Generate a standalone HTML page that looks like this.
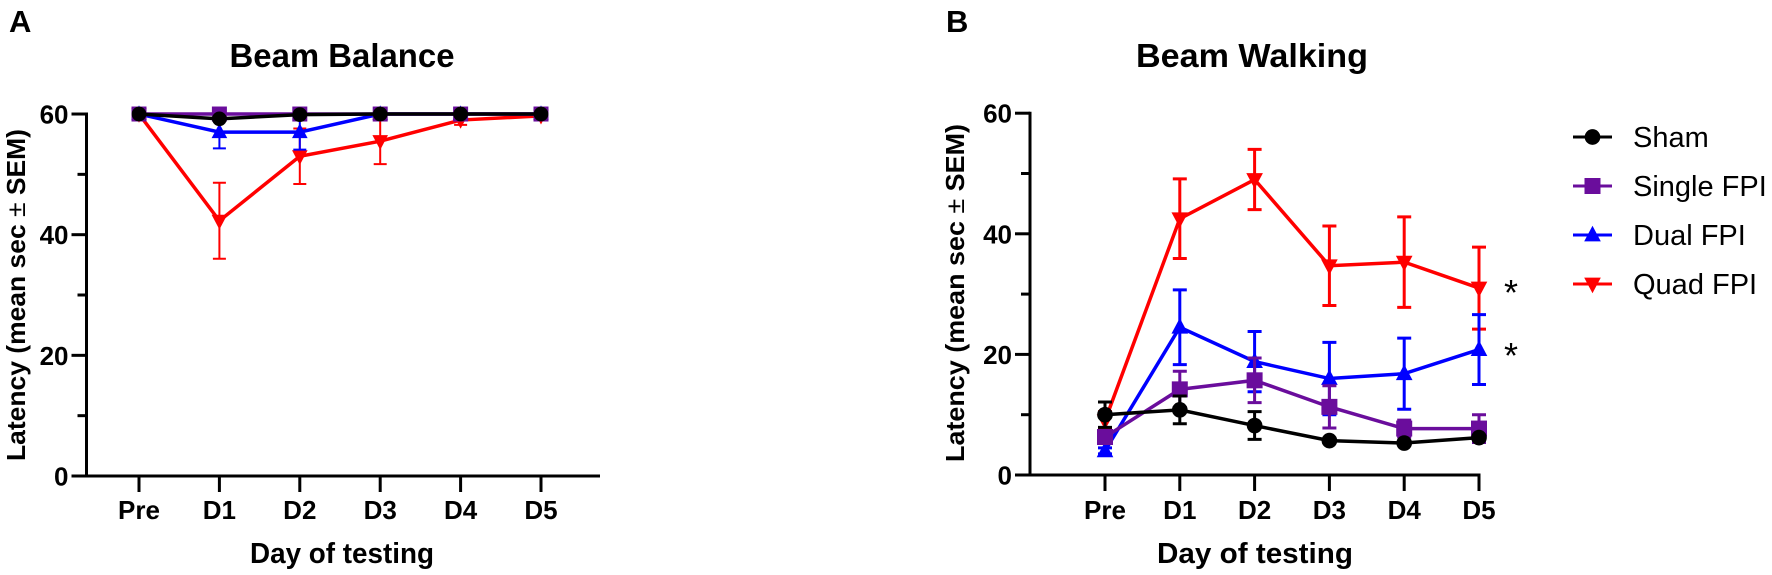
<!DOCTYPE html>
<html lang="en">
<head>
<meta charset="utf-8">
<title>Beam Balance and Beam Walking</title>
<style>
html,body{margin:0;padding:0;background:#fff;width:1772px;height:575px;overflow:hidden}
svg{display:block}
text{font-family:"Liberation Sans",sans-serif;fill:#000}
.b{font-weight:bold}
</style>
</head>
<body>
<svg id="figure" width="1772" height="575" viewBox="0 0 1772 575" xmlns="http://www.w3.org/2000/svg"></svg>
<script>
const days = ['Pre', 'D1', 'D2', 'D3', 'D4', 'D5'];
const yTickLabels = [0, 20, 40, 60];
const yMinorTicks = [10, 30, 50];
const seriesNames = ['Quad FPI', 'Dual FPI', 'Single FPI', 'Sham'];
const legendOrder = ['Sham', 'Single FPI', 'Dual FPI', 'Quad FPI'];

const balanceSham = [60, 59.2, 59.9, 60, 60, 60];
const balanceShamErr = [0, 0.3, 0.1, 0, 0, 0];
const balanceSingle = [60, 60, 60, 60, 60, 60];
const balanceSingleErr = [0, 0, 0, 0, 0, 0];
const balanceDual = [60, 57, 57, 60, 60, 60];
const balanceDualErr = [0, 2.7, 2.9, 0, 0, 0];
const balanceQuad = [60, 42.3, 53, 55.5, 59, 59.7];
const balanceQuadErr = [0, 6.3, 4.6, 3.8, 0.8, 0.5];

const walkingSham = [10, 10.8, 8.2, 5.7, 5.3, 6.2];
const walkingShamErr = [2.1, 2.3, 2.3, 0.3, 0.3, 0.3];
const walkingSingle = [6.3, 14.2, 15.7, 11.3, 7.7, 7.7];
const walkingSingleErr = [0.6, 3, 3.7, 3.5, 1.4, 2.3];
const walkingDual = [4, 24.5, 18.8, 16, 16.8, 20.8];
const walkingDualErr = [0.5, 6.2, 5, 6, 5.9, 5.8];
const walkingQuad = [9, 42.5, 49, 34.7, 35.3, 31];
const walkingQuadErr = [1.5, 6.6, 5, 6.6, 7.5, 6.8];

const NS = 'http://www.w3.org/2000/svg';
const root = document.getElementById('figure');
const COLORS = {'Sham':'#000000','Single FPI':'#6a0d9c','Dual FPI':'#0000ff','Quad FPI':'#ff0000'};
const MARKERS = {'Sham':'circle','Single FPI':'square','Dual FPI':'up','Quad FPI':'down'};

function make(tag, attrs, parent){
  const el = document.createElementNS(NS, tag);
  for (const k in attrs) el.setAttribute(k, attrs[k]);
  (parent || root).appendChild(el);
  return el;
}
function slug(s){ return s.toLowerCase().replace(/[^a-z0-9]+/g,'-'); }

function drawMarker(parent, kind, x, y, color, size){
  const s = size;
  let el;
  if (kind === 'circle') {
    el = make('circle', {cx:x, cy:y, r:s*0.49, fill:color}, parent);
  } else if (kind === 'square') {
    el = make('rect', {x:x-s/2, y:y-s/2, width:s, height:s, fill:color}, parent);
  } else if (kind === 'up') {
    el = make('polygon', {points:`${x},${y-s*0.58} ${x+s*0.52},${y+s*0.4} ${x-s*0.52},${y+s*0.4}`, fill:color}, parent);
  } else {
    el = make('polygon', {points:`${x},${y+s*0.58} ${x+s*0.52},${y-s*0.4} ${x-s*0.52},${y-s*0.4}`, fill:color}, parent);
  }
  
  
  return el;
}

function drawPanel(p){
  const g = make('g', {});
  
  
  const xPos = i => p.xFirst + i * p.xStep;
  const yPos = v => p.y0 - v * p.yUnit;
  const tickLabelSize = 26;

  const letter = make('text', {x:p.letterX, y:32, 'font-size':31, class:'b'}, g);
  letter.textContent = p.letter;
  
  

  const title = make('text', {x:p.titleX, y:67, 'font-size':33, class:'b', 'text-anchor':'middle', textLength:p.titleW, lengthAdjust:'spacingAndGlyphs'}, g);
  title.textContent = p.title;
  
  

  // axes
  const yAxis = make('line', {x1:p.axisX, x2:p.axisX, y1:yPos(60)-1.5, y2:p.y0+1.5, stroke:'#000', 'stroke-width':3}, g);
  
  
  const xAxis = make('line', {x1:p.axisX-15, x2:p.xEnd, y1:p.y0, y2:p.y0, stroke:'#000', 'stroke-width':3}, g);
  
  

  yTickLabels.forEach(v => {
    const t = make('line', {x1:p.axisX-15, x2:p.axisX, y1:yPos(v), y2:yPos(v), stroke:'#000', 'stroke-width':3}, g);
    
    
    const l = make('text', {x:p.axisX-18, y:yPos(v)+9.5, 'font-size':tickLabelSize, class:'b', 'text-anchor':'end'}, g);
    l.textContent = v;
    
    
  });
  yMinorTicks.forEach(v => {
    const t = make('line', {x1:p.axisX-9, x2:p.axisX, y1:yPos(v), y2:yPos(v), stroke:'#000', 'stroke-width':3}, g);
    
    
  });
  days.forEach((d, i) => {
    const x = xPos(i);
    const t = make('line', {x1:x, x2:x, y1:p.y0, y2:p.y0+16, stroke:'#000', 'stroke-width':3}, g);
    
    
    const l = make('text', {x:x, y:519, 'font-size':tickLabelSize, class:'b', 'text-anchor':'middle'}, g);
    l.textContent = d;
    
    
  });

  const xt = make('text', {x:p.xTitleX, y:563, 'font-size':29, class:'b', 'text-anchor':'middle', textLength:p.xTitleW, lengthAdjust:'spacingAndGlyphs'}, g);
  xt.textContent = 'Day of testing';
  
  

  const yt = make('text', {transform:`translate(${p.yTitleX},${p.yTitleY}) rotate(-90)`, 'font-size':26, class:'b', 'text-anchor':'middle', textLength:p.yTitleW, lengthAdjust:'spacingAndGlyphs'}, g);
  yt.textContent = 'Latency (mean sec ';
  const pm = make('tspan', {'font-weight':'normal'}, yt);
  pm.textContent = '±';
  const rest = make('tspan', {}, yt);
  rest.textContent = ' SEM)';
  
  

  // series: error bars then line then markers, drawn back to front
  seriesNames.forEach(name => {
    const vals = p.values[name], errs = p.errors[name], col = COLORS[name];
    const sg = make('g', {}, g);
    
    
    vals.forEach((v, i) => {
      if (errs[i] <= 0) return;
      const x = xPos(i), hi = yPos(v + errs[i]), lo = yPos(v - errs[i]);
      const e = make('path', {d:`M${x} ${hi}V${lo}M${x-p.cap} ${hi}H${x+p.cap}M${x-p.cap} ${lo}H${x+p.cap}`, fill:'none', stroke:col, 'stroke-width':p.errW}, sg);
      
      
    });
    const pts = vals.map((v, i) => xPos(i) + ',' + yPos(v)).join(' ');
    const line = make('polyline', {points:pts, fill:'none', stroke:col, 'stroke-width':p.lineW, 'stroke-linejoin':'miter'}, sg);
    
    
    vals.forEach((v, i) => drawMarker(sg, MARKERS[name], xPos(i), yPos(v), col, p.markerSize));
  });
}

drawPanel({
  id:'beam-balance', letter:'A', title:'Beam Balance', letterX:9, titleX:342, titleW:225,
  axisX:86.5, xEnd:600, xFirst:139, xStep:80.4, y0:476, yUnit:6.033,
  xTitleX:342, xTitleW:184, yTitleX:25, yTitleY:295, yTitleW:332,
  cap:6.5, errW:2, lineW:3.5, markerSize:15,
  values:{'Sham':balanceSham,'Single FPI':balanceSingle,'Dual FPI':balanceDual,'Quad FPI':balanceQuad},
  errors:{'Sham':balanceShamErr,'Single FPI':balanceSingleErr,'Dual FPI':balanceDualErr,'Quad FPI':balanceQuadErr}
});
drawPanel({
  id:'beam-walking', letter:'B', title:'Beam Walking', letterX:946, titleX:1252, titleW:232,
  axisX:1030, xEnd:1480.5, xFirst:1105, xStep:74.8, y0:475, yUnit:6.03,
  xTitleX:1255, xTitleW:196, yTitleX:964, yTitleY:293, yTitleW:338,
  cap:7, errW:3, lineW:3.5, markerSize:16,
  values:{'Sham':walkingSham,'Single FPI':walkingSingle,'Dual FPI':walkingDual,'Quad FPI':walkingQuad},
  errors:{'Sham':walkingShamErr,'Single FPI':walkingSingleErr,'Dual FPI':walkingDualErr,'Quad FPI':walkingQuadErr}
});

// significance asterisks
const star1 = make('text', {x:1511, y:305, 'font-size':36, 'text-anchor':'middle'});
star1.textContent = '*';


const star2 = make('text', {x:1511, y:368, 'font-size':36, 'text-anchor':'middle'});
star2.textContent = '*';



// legend
const legend = make('g', {});


legendOrder.forEach((name, i) => {
  const y = 137 + i * 49;
  const entry = make('g', {}, legend);
  
  
  make('line', {x1:1573, x2:1612, y1:y, y2:y, stroke:COLORS[name], 'stroke-width':3}, entry);
  drawMarker(entry, MARKERS[name], 1592.5, y, COLORS[name], 16);
  const t = make('text', {x:1633, y:y+10, 'font-size':29}, entry);
  t.textContent = name;
  
  
});
</script>
</body>
</html>
